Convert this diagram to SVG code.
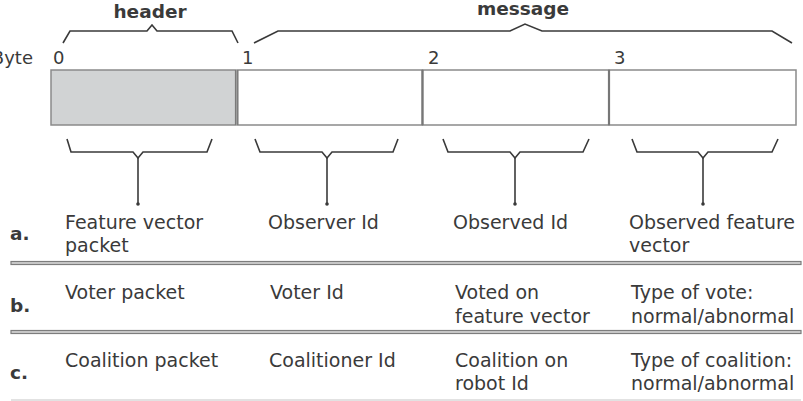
<svg xmlns="http://www.w3.org/2000/svg" width="803" height="401" viewBox="0 0 803 401">
<style>
text{font-family:"DejaVu Sans",sans-serif;fill:#3a3a3a;font-size:19px}
.b{font-weight:bold;font-size:18.5px}
.num{font-size:18px}
.brace{fill:none;stroke:#3a3a3a;stroke-width:1.6;stroke-linejoin:miter}
.stem{stroke:#3a3a3a;stroke-width:1.6}
.cell{fill:#fff;stroke:#8a8a8a;stroke-width:1.5}
.sep{fill:#cfcfcf;stroke:#7d7d7d;stroke-width:1.2}
</style>
<rect width="803" height="401" fill="#fff"/>
<g id="top-labels">
<text class="b" x="150" y="18" text-anchor="middle">header</text>
<text class="b" x="523" y="15" text-anchor="middle">message</text>
<text class="num" x="33" y="64" text-anchor="end">Byte</text>
<text class="num" x="53" y="64">0</text>
<text class="num" x="242" y="64">1</text>
<text class="num" x="428" y="64">2</text>
<text class="num" x="614" y="64">3</text>
</g>
<g id="top-braces">
<path class="brace" d="M63,43 L70,31 L147,31 L152,25 L157,31 L232,31 L238,43"/>
<path class="brace" d="M254,43 L278,31 L510,31 L525,24 L542,31 L772,31 L792,43"/>
</g>
<g id="packet">
<rect id="byte0" x="51" y="70" width="185" height="55" fill="#d1d3d4" stroke="#8a8a8a" stroke-width="1.5"/>
<rect id="byte1" class="cell" x="237.5" y="70" width="185" height="55"/>
<rect id="byte2" class="cell" x="422.5" y="70" width="186.5" height="55"/>
<rect id="byte3" class="cell" x="609" y="70" width="187" height="55"/>
<line x1="235.5" y1="70" x2="235.5" y2="125" stroke="#7a7a7a" stroke-width="1.2"/>
<line x1="237.8" y1="70" x2="237.8" y2="125" stroke="#7a7a7a" stroke-width="1.2"/>
<line x1="422.5" y1="70" x2="422.5" y2="125" stroke="#777" stroke-width="2.2"/>
<line x1="609" y1="70" x2="609" y2="125" stroke="#777" stroke-width="2.2"/>
</g>
<g id="connectors">
<path class="brace" d="M67,139 L71,152 L133,152 L138,158 L143,152 L207,152 L212,139"/>
<path class="brace" d="M255,139 L260,152 L322,152 L327,158 L332,152 L393,152 L398,139"/>
<path class="brace" d="M443,139 L448,152 L510,152 L515,158 L520,152 L583,152 L589,139"/>
<path class="brace" d="M632,139 L637,152 L698,152 L703,158 L708,152 L772,152 L778,139"/>
<line class="stem" x1="138" y1="158" x2="138" y2="204"/>
<line class="stem" x1="327" y1="158" x2="327" y2="204"/>
<line class="stem" x1="515" y1="158" x2="515" y2="204"/>
<line class="stem" x1="703" y1="158" x2="703" y2="204"/>
<circle cx="138" cy="204" r="1.8" fill="#3a3a3a"/>
<circle cx="327" cy="204" r="1.8" fill="#3a3a3a"/>
<circle cx="515" cy="204" r="1.8" fill="#3a3a3a"/>
<circle cx="703" cy="204" r="1.8" fill="#3a3a3a"/>
</g>
<g id="row-a">
<text class="b" x="10" y="240">a.</text>
<text x="65" y="229">Feature vector</text>
<text x="65" y="252">packet</text>
<text x="268" y="229">Observer Id</text>
<text x="453" y="229">Observed Id</text>
<text x="629" y="229">Observed feature</text>
<text x="629" y="252">vector</text>
</g>
<rect class="sep" x="11" y="261.5" width="790" height="3"/>
<g id="row-b">
<text class="b" x="10" y="312">b.</text>
<text x="65" y="299">Voter packet</text>
<text x="270" y="299">Voter Id</text>
<text x="455" y="299">Voted on</text>
<text x="455" y="323">feature vector</text>
<text x="631" y="299">Type of vote:</text>
<text x="631" y="323">normal/abnormal</text>
</g>
<rect class="sep" x="11" y="330.5" width="790" height="3"/>
<g id="row-c">
<text class="b" x="10" y="379">c.</text>
<text x="65" y="367">Coalition packet</text>
<text x="269" y="367">Coalitioner Id</text>
<text x="455" y="367">Coalition on</text>
<text x="455" y="390">robot Id</text>
<text x="631" y="367">Type of coalition:</text>
<text x="631" y="390">normal/abnormal</text>
</g>
<line x1="11" y1="400" x2="801" y2="400" stroke="#d8d8d8" stroke-width="1.5"/>
</svg>
